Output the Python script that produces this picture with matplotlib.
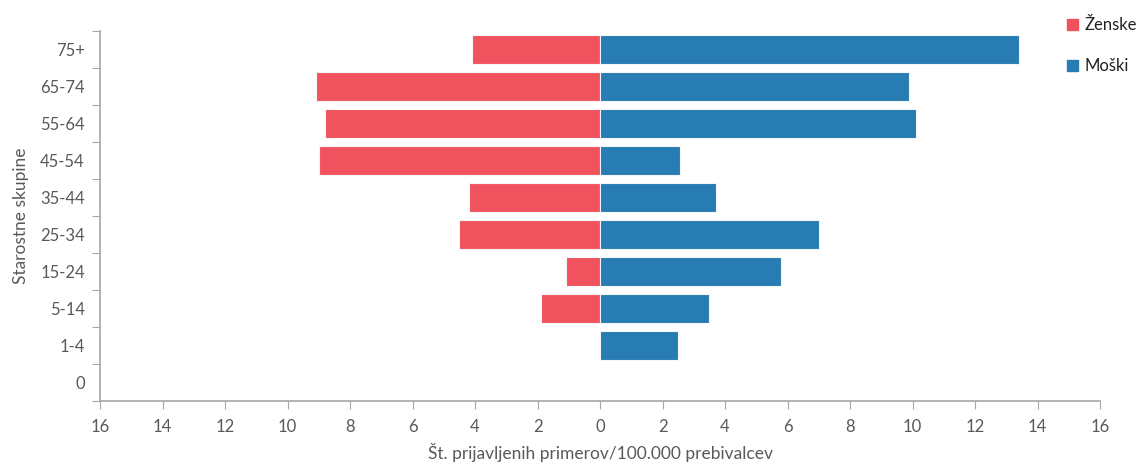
import matplotlib
matplotlib.use('Agg')
import matplotlib.pyplot as plt
import numpy as np
from matplotlib.patches import Patch

plt.rcParams['font.family'] = ['Lato', 'DejaVu Sans']

# starostne skupine (od spodaj navzgor)
groups = ['0', '1-4', '5-14', '15-24', '25-34', '35-44', '45-54', '55-64', '65-74', '75+']
zenske = [0, 0, 1.9, 1.1, 4.5, 4.2, 9.0, 8.8, 9.1, 4.1]
moski = [0, 2.5, 3.5, 5.8, 7.0, 3.7, 2.55, 10.1, 9.9, 13.4]
xticks = [-16, -14, -12, -10, -8, -6, -4, -2, 0, 2, 4, 6, 8, 10, 12, 14, 16]

c_z = '#F0535D'
c_m = '#277CB3'
gray = '#595959'
spine = '#A6A6A6'

fig = plt.figure(figsize=(11.37, 4.65), dpi=100)
ax = fig.add_axes([0.088, 0.138, 0.8795, 0.795])

y = np.arange(len(groups))
# brez obrobe za prazne stolpce
lw_z = [0.8 if v else 0 for v in zenske]
lw_m = [0.8 if v else 0 for v in moski]
ax.barh(y, -np.array(zenske), height=0.8, color=c_z, edgecolor='#F5F5F5', linewidth=lw_z)
ax.barh(y, moski, height=0.8, color=c_m, edgecolor='#F5F5F5', linewidth=lw_m)

ax.set_xlim(-16, 16)
ax.set_ylim(-0.5, len(groups) - 0.5)
ax.set_xticks(xticks)
ax.set_xticklabels([str(abs(v)) for v in xticks], color=gray, fontsize=12)

# kljukice na mejah skupin, napisi na sredini
ax.set_yticks(np.arange(-0.5, len(groups), 1.0))
ax.set_yticklabels([])
ax.set_yticks(y, minor=True)
ax.set_yticklabels(groups, minor=True, color=gray, fontsize=12)
ax.tick_params(axis='y', which='minor', length=0, pad=11)
ax.tick_params(axis='y', which='major', length=6, color=spine, direction='out')
ax.tick_params(axis='x', length=6, color=spine, pad=7)

for s in ['top', 'right']:
    ax.spines[s].set_visible(False)
for s in ['left', 'bottom']:
    ax.spines[s].set_color(spine)
    ax.spines[s].set_linewidth(1.2)

ax.set_xlabel('Št. prijavljenih primerov/100.000 prebivalcev', color=gray, fontsize=12.5, labelpad=6)
ax.set_ylabel('Starostne skupine', color=gray, fontsize=12.5, labelpad=8)

handles = [Patch(color=c_z, label='Ženske'), Patch(color=c_m, label='Moški')]
fig.legend(handles=handles, loc='upper left', bbox_to_anchor=(0.925, 0.995), frameon=False,
           handlelength=0.7, handleheight=0.7, handletextpad=0.35, labelspacing=1.5,
           fontsize=12, labelcolor='#222222')

fig.savefig('out.png', dpi=100)
